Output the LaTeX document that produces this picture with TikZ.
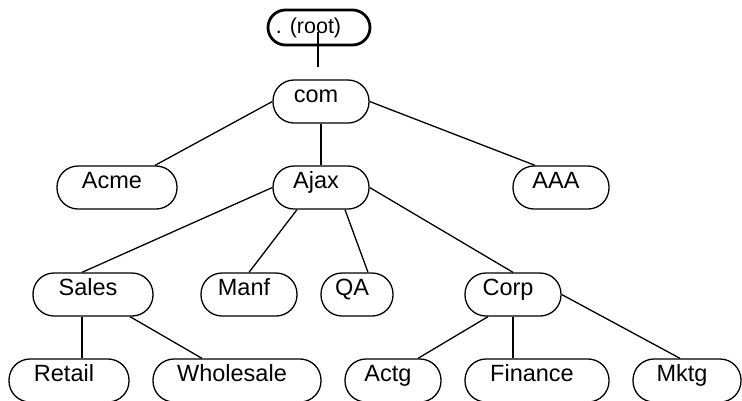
\documentclass[tikz,border=0pt]{standalone}
\usepackage{fontspec}
\setmainfont{Liberation Sans}
\begin{document}
\begin{tikzpicture}[x=1pt, y=-1pt, line width=1.3pt,
    box/.style={draw, rounded corners=21pt, inner ysep=5pt, text height=17pt, text depth=16pt,
      font=\fontsize{23.5}{28}\selectfont, execute at begin node={\hspace*{-10pt}}},
    rootbox/.style={draw, line width=2.8pt, rounded corners=17.5pt, minimum width=102pt, inner ysep=4pt,
      text height=19pt, text depth=8pt, font=\fontsize{21.5}{25}\selectfont, execute at begin node={\hspace*{-21pt}}}]
  \useasboundingbox (0,0) rectangle (742,400);

  % === 根 ===
  \node[rootbox] (root) at (319,27.5) {. (root)};
  \coordinate (stub) at (318,67);
  \draw[line width=2.2pt] ([xshift=-1pt, yshift=-4pt]root.center) -- (stub);

  % 第一层
  \node[box, minimum width=96pt] (com) at (321,101.5) {com};

  % 第二层
  \node[box, minimum width=120pt] (acme) at (117,187.5) {Acme};
  \node[box, minimum width=96pt] (ajax) at (321,187.5) {Ajax};
  \node[box, minimum width=96pt] (aaa) at (561,187.5) {AAA};

  % 第三层
  \node[box, minimum width=120pt] (sales) at (93,294.5) {Sales};
  \node[box, minimum width=96pt] (manf) at (249,294.5) {Manf};
  \node[box, minimum width=72pt] (qa) at (357,294.5) {QA};
  \node[box, minimum width=96pt] (corp) at (513,294.5) {Corp};

  % 第四层
  \node[box, minimum width=120pt] (retail) at (69,380.5) {Retail};
  \node[box, minimum width=168pt] (wholesale) at (237,380.5) {Wholesale};
  \node[box, minimum width=96pt] (actg) at (393,380.5) {Actg};
  \node[box, minimum width=144pt] (finance) at (537,380.5) {Finance};
  \node[box, minimum width=108pt] (mktg) at (687,380.5) {Mktg};

  % 连线
  \draw (com.west) -- ([xshift=38pt]acme.north);
  \draw (com.south) -- (ajax.north);
  \draw (com.east) -- ([xshift=-26pt]aaa.north);
  \draw (ajax.west) -- ([xshift=-11pt]sales.north);
  \draw ([xshift=-24pt]ajax.south) -- (manf.north);
  \draw ([xshift=24pt]ajax.south) -- ([xshift=11pt]qa.north);
  \draw (ajax.east) -- (corp.north);
  \draw ([xshift=-11pt]sales.south) -- ([xshift=13pt]retail.north);
  \draw ([xshift=37pt]sales.south) -- ([xshift=-35pt]wholesale.north);
  \draw ([xshift=-25pt]corp.south) -- ([xshift=25pt]actg.north);
  \draw (corp.south) -- ([xshift=-24pt]finance.north);
  \draw (corp.east) -- ([xshift=-7pt]mktg.north);
\end{tikzpicture}
\end{document}
